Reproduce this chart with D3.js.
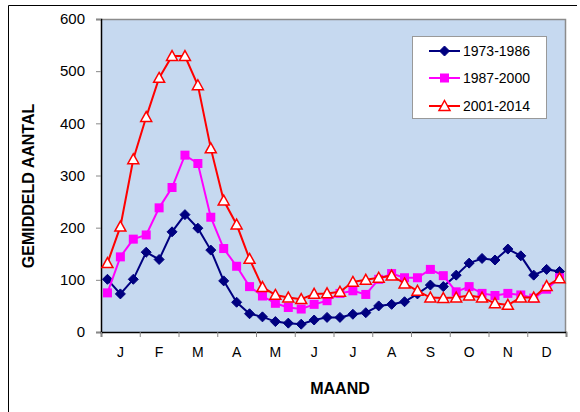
<!DOCTYPE html>
<html><head><meta charset="utf-8">
<script src="https://cdn.jsdelivr.net/npm/d3@7"></script>
<style>body{margin:0;background:#fff}svg{display:block;font-family:"Liberation Sans",Arial,sans-serif}</style>
</head><body><svg id="c" width="580" height="412"></svg>
<script>
const months = ["J","F","M","A","M","J","J","A","S","O","N","D"];
const yTicks = [0,100,200,300,400,500,600];
const seriesNames = ["1973-1986","1987-2000","2001-2014"];
const s1973 = [101,73,101,153,139,192,225,199,157,98,57,35, 29,20,17,15,23,28,28,34,37,50,53,58, 73,90,87,109,132,141,138,159,146,109,120,116];
const s1987 = [75,144,178,186,238,277,339,323,220,160,126,87, 69,55,47,44,53,60,74,79,72,101,112,104, 104,120,108,77,87,74,70,74,71,65,82,104];
const s2001 = [132,202,331,412,487,529,529,473,352,252,206,140, 86,71,66,63,73,74,77,96,100,104,108,93, 79,66,65,66,70,66,55,52,66,66,88,103];

const svg = d3.select("#c");
const L = 101, R = 566, T = 19, B = 332;
const x = d3.scaleLinear().domain([0, 36]).range([L, R]);
const xm = d3.scaleLinear().domain([0, 12]).range([L, R]);
const y = d3.scaleLinear().domain([0, 600]).range([B, T]);

// outer chart frame
svg.append("path").attr("d", `M8.5,412 V5.5 H577`).attr("fill","none").attr("stroke","#000").attr("stroke-width",1);

// plot area
svg.append("rect").attr("x", L).attr("y", T).attr("width", R - L).attr("height", B - T).attr("fill", "#C6D9F0");
svg.append("path").attr("d", `M${L},${T+0.5} H${R-0.5} V${B}`).attr("fill","none").attr("stroke","#8c8c8c").attr("stroke-width",1.5);

// y axis
const ya = svg.append("g").attr("transform", `translate(${L},0)`)
  .call(d3.axisLeft(y).tickValues(yTicks).tickSize(5).tickPadding(11).tickFormat(d3.format("d")));
ya.select(".domain").attr("stroke","#000").attr("stroke-width",1.5);
ya.selectAll(".tick line").attr("stroke","#888");
ya.selectAll("text").attr("font-size", 15).attr("fill","#000").attr("font-family","Liberation Sans, Arial, sans-serif");

// x axis
const xa = svg.append("g").attr("transform", `translate(0,${B})`)
  .call(d3.axisBottom(xm).tickValues(d3.range(0,13)).tickSize(5).tickFormat(""));
xa.select(".domain").attr("stroke","#000").attr("stroke-width",1.5);
xa.selectAll(".tick line").attr("stroke","#888");
svg.append("g").selectAll("text").data(months).join("text")
  .attr("x", (d,i) => xm(i + 0.5)).attr("y", 357).attr("text-anchor","middle")
  .attr("font-size", 14).attr("fill","#000").text(d => d);

// titles
svg.append("text").attr("x", 340).attr("y", 394).attr("text-anchor","middle")
  .attr("font-size", 16).attr("font-weight","bold").text("MAAND");
svg.append("text").attr("transform", "translate(34,186) rotate(-90)").attr("text-anchor","middle")
  .attr("font-size", 16).attr("font-weight","bold").text("GEMIDDELD AANTAL");

const line = d3.line().x((d,i) => x(i + 0.5)).y(d => y(d));
const plot = svg.append("g");

function diamond(g, cx, cy, s) {
  g.append("path").attr("d", `M${cx},${cy-s} L${cx+s},${cy} L${cx},${cy+s} L${cx-s},${cy} Z`).attr("fill","#000080").attr("stroke","#000080").attr("stroke-width",1);
}
function square(g, cx, cy, s) {
  g.append("rect").attr("x", cx-s).attr("y", cy-s).attr("width", 2*s).attr("height", 2*s).attr("fill","#FF00FF");
}
function triangle(g, cx, cy, s) {
  g.append("path").attr("d", `M${cx},${cy-s} L${cx+s},${cy+s*0.8} L${cx-s},${cy+s*0.8} Z`).attr("fill","#fff").attr("stroke","#FF0000").attr("stroke-width",1.5);
}

const series = [
  {name: seriesNames[0], data: s1973, color: "#000080", mark: diamond, size: 5},
  {name: seriesNames[1], data: s1987, color: "#FF00FF", mark: square, size: 4.5},
  {name: seriesNames[2], data: s2001, color: "#FF0000", mark: triangle, size: 5.5}
];
// draw lines then markers, red on top
series.forEach(s => {
  const g = plot.append("g");
  g.append("path").attr("d", line(s.data)).attr("fill","none").attr("stroke", s.color).attr("stroke-width", 2);
  s.data.forEach((v,i) => s.mark(g, x(i + 0.5), y(v), s.size));
});

// legend
const lg = svg.append("g");
lg.append("rect").attr("x", 412.5).attr("y", 36.5).attr("width", 134).attr("height", 82).attr("fill","#fff").attr("stroke","#999").attr("stroke-width",1);
const rowsY = [51, 78, 106];
series.forEach((s,i) => {
  lg.append("line").attr("x1", 429).attr("x2", 460).attr("y1", rowsY[i]).attr("y2", rowsY[i]).attr("stroke", s.color).attr("stroke-width", 2);
  s.mark(lg, 444.5, rowsY[i], s.size);
  lg.append("text").attr("x", 463).attr("y", rowsY[i]).attr("dy","0.36em").attr("font-size", 14).attr("fill","#000").text(s.name);
});
</script></body></html>
